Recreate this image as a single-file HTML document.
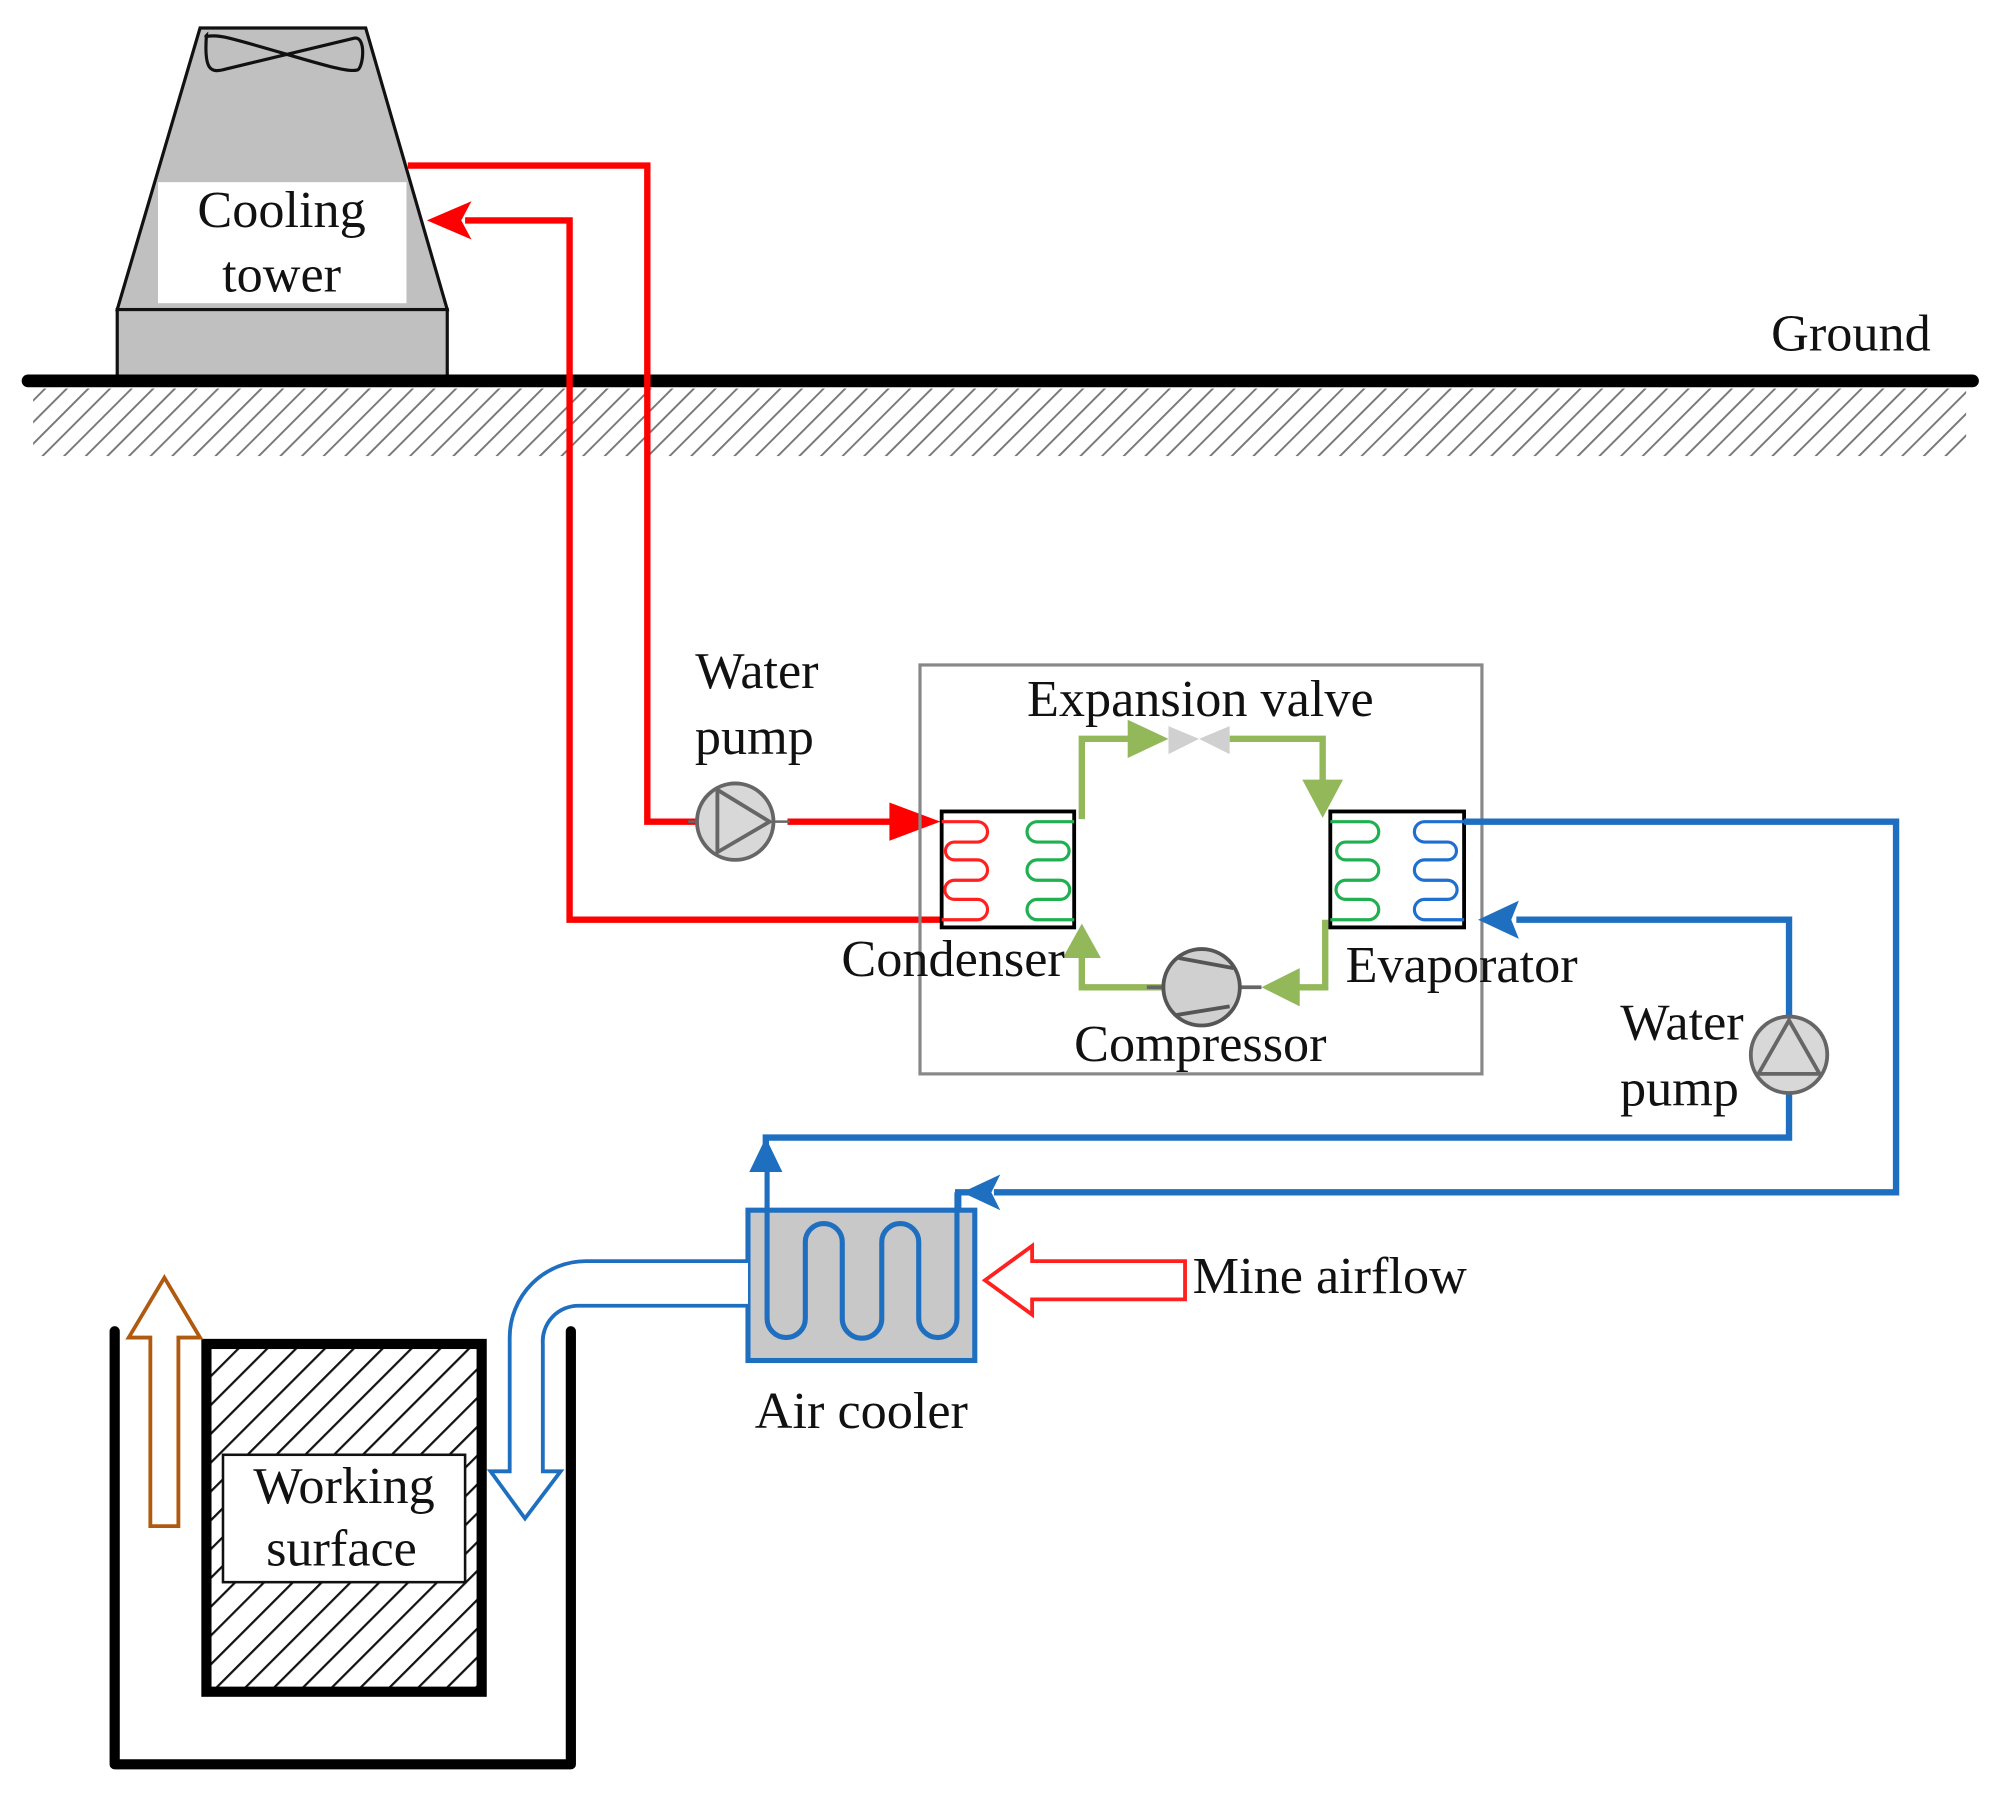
<!DOCTYPE html>
<html><head><meta charset="utf-8"><style>
html,body{margin:0;padding:0;background:#fff;}
svg{display:block;}
text{font-family:"Liberation Serif",serif;fill:#111;font-size:41px;}
</style></head><body>
<svg width="1998" height="1800" viewBox="0 0 1568 1413" preserveAspectRatio="none" xmlns="http://www.w3.org/2000/svg">
<defs>
<pattern id="h1" width="12" height="12" patternUnits="userSpaceOnUse" patternTransform="rotate(45)">
<line x1="0" y1="0" x2="0" y2="12" stroke="#777" stroke-width="3"/></pattern>
<pattern id="h2" width="16" height="16" patternUnits="userSpaceOnUse" patternTransform="rotate(45)">
<line x1="0" y1="0" x2="0" y2="16" stroke="#111" stroke-width="3.5"/></pattern>
</defs>
<rect width="1568" height="1413" fill="#fff"/>
<!-- ground -->
<rect x="26" y="305" width="1517" height="53" fill="url(#h1)"/>
<!-- cooling tower -->
<polygon points="157,22 287,22 351,243 92,243" fill="#c0c0c0" stroke="#111" stroke-width="2.5"/>
<path d="M162,28 C160,55 165,58 178,54 L278,30 C288,28 285,55 280,55 C270,58 220,40 180,30 C165,26 160,30 162,28 Z" fill="none" stroke="#111" stroke-width="2.5"/>
<rect x="124" y="143" width="195" height="95" fill="#fff"/>
<rect x="92" y="243" width="259" height="55" fill="#c0c0c0" stroke="#111" stroke-width="2.5"/>
<text x="221" y="178" text-anchor="middle">Cooling</text>
<text x="221" y="229" text-anchor="middle">tower</text>
<line x1="22" y1="299" x2="1548" y2="299" stroke="#000" stroke-width="10" stroke-linecap="round"/>
<text x="1390" y="275">Ground</text>
<!-- red lines -->
<g stroke="#ff0000" stroke-width="5" fill="none">
<polyline points="320,130 508,130 508,645 546,645"/>
<line x1="618" y1="645" x2="705" y2="645"/>
<polyline points="738,722 447,722 447,173 365,173"/>
</g>
<polygon points="698,630 738,645 698,660" fill="#ff0000"/>
<polygon points="335,173 370,158 362,173 370,188" fill="#ff0000"/>
<!-- pump left -->
<line x1="540" y1="645" x2="620" y2="645" stroke="#666" stroke-width="2"/>
<circle cx="577" cy="645" r="30" fill="#d8d8d8" stroke="#666" stroke-width="3"/>
<polygon points="563,620 604,645 563,669" fill="none" stroke="#666" stroke-width="3"/>
<text x="594" y="540" text-anchor="middle">Water</text>
<text x="592" y="592" text-anchor="middle">pump</text>
<!-- expansion box -->
<rect x="722" y="522" width="441" height="321" fill="none" stroke="#888" stroke-width="2.5"/>
<text x="942" y="562" text-anchor="middle">Expansion valve</text>
<!-- green loop -->
<g stroke="#92b85a" stroke-width="5" fill="none">
<polyline points="849,643 849,580 890,580"/>
<polyline points="965,580 1038,580 1038,615"/>
<polyline points="1040,722 1040,775 1010,775"/>
<polyline points="913,775 849,775 849,750"/>
</g>
<polygon points="885,565 917,580 885,595" fill="#92b85a"/>
<polygon points="1022,612 1038,642 1054,612" fill="#92b85a"/>
<polygon points="1020,760 990,775 1020,790" fill="#92b85a"/>
<polygon points="834,752 849,725 864,752" fill="#92b85a"/>
<polygon points="917,570 941,580 917,592" fill="#d0d0d0"/>
<polygon points="965,570 941,580 965,592" fill="#d0d0d0"/>
<!-- compressor -->
<line x1="900" y1="775" x2="990" y2="775" stroke="#666" stroke-width="3"/>
<circle cx="943" cy="775" r="30" fill="#d0d0d0" stroke="#555" stroke-width="3"/>
<line x1="925" y1="752" x2="968" y2="760" stroke="#555" stroke-width="3"/>
<line x1="922" y1="797" x2="965" y2="790" stroke="#555" stroke-width="3"/>
<text x="942" y="833" text-anchor="middle">Compressor</text>
<!-- condenser -->
<rect x="739" y="637" width="104" height="91" fill="#fff" stroke="#000" stroke-width="3"/>
<path d="M739,645 H767 A8,8 0 0 1 767,661 H749 A7,7 0 0 0 749,675 H767 A8,8 0 0 1 767,691 H749 A7.5,7.5 0 0 0 749,706 H767 A8,8 0 0 1 767,722 H739" fill="none" stroke="#ff2020" stroke-width="2.5"/>
<path d="M843,645 H814 A8,8 0 0 0 814,661 H832 A7,7 0 0 1 832,675 H814 A8,8 0 0 0 814,691 H832 A7.5,7.5 0 0 1 832,706 H814 A8,8 0 0 0 814,722 H843" fill="none" stroke="#20b050" stroke-width="2.5"/>
<text x="748" y="766" text-anchor="middle">Condenser</text>
<!-- evaporator -->
<rect x="1044" y="637" width="105" height="91" fill="#fff" stroke="#000" stroke-width="3"/>
<path d="M1044,645 H1074 A8,8 0 0 1 1074,661 H1056 A7,7 0 0 0 1056,675 H1074 A8,8 0 0 1 1074,691 H1056 A7.5,7.5 0 0 0 1056,706 H1074 A8,8 0 0 1 1074,722 H1044" fill="none" stroke="#20b050" stroke-width="2.5"/>
<path d="M1149,645 H1118 A8,8 0 0 0 1118,661 H1136 A7,7 0 0 1 1136,675 H1118 A8,8 0 0 0 1118,691 H1136 A7.5,7.5 0 0 1 1136,706 H1118 A8,8 0 0 0 1118,722 H1149" fill="none" stroke="#1f6fd0" stroke-width="2.5"/>
<text x="1056" y="771">Evaporator</text>
<!-- blue lines -->
<g stroke="#1f6fc0" stroke-width="5" fill="none">
<polyline points="1149,645 1488,645 1488,936 780,936"/>
<polyline points="1190,722 1404,722 1404,798"/>
<polyline points="1404,858 1404,893 601,893 601,915"/>
<polyline points="752,955 752,936 770,936"/>
</g>
<polygon points="588,920 601,893 614,920" fill="#1f6fc0"/>
<polygon points="755,936 785,922 778,936 785,950" fill="#1f6fc0"/>
<polygon points="1160,722 1192,707 1186,722 1192,737" fill="#1f6fc0"/>
<!-- pump right -->
<circle cx="1404" cy="828" r="30" fill="#d8d8d8" stroke="#666" stroke-width="3"/>
<polygon points="1404,801 1380,843 1428,843" fill="none" stroke="#666" stroke-width="3"/>
<text x="1320" y="816" text-anchor="middle">Water</text>
<text x="1318" y="868" text-anchor="middle">pump</text>
<!-- air cooler -->
<rect x="587" y="950" width="178" height="118" fill="#c8c8c8" stroke="#1f6fc0" stroke-width="4"/>
<path d="M602,915 V1035 A15,15 0 0 0 632,1035 V975 A14.5,14.5 0 0 1 661,975 V1035 A15.5,15.5 0 0 0 692,1035 V975 A14.5,14.5 0 0 1 721,975 V1035 A15,15 0 0 0 751,1035 V936" fill="none" stroke="#1f6fc0" stroke-width="4"/>
<text x="676" y="1121" text-anchor="middle">Air cooler</text>
<!-- mine airflow arrow -->
<polygon points="773,1005 810,978 810,990 930,990 930,1020 810,1020 810,1032" fill="#fff" stroke="#ff2020" stroke-width="3"/>
<text x="936" y="1015">Mine airflow</text>
<!-- blue hollow pipe -->
<path d="M587,990 H460 A60,60 0 0 0 400,1050 V1155 H385 L412,1192 L440,1155 H426 V1055 A28,28 0 0 1 454,1025 H587" fill="#fff" stroke="#1f6fc0" stroke-width="3"/>
<!-- mine shaft -->
<polyline points="90,1045 90,1385 448,1385 448,1045" fill="none" stroke="#000" stroke-width="8" stroke-linecap="round" stroke-linejoin="round"/>
<rect x="162" y="1055" width="216" height="273" fill="url(#h2)" stroke="#000" stroke-width="8"/>
<rect x="175" y="1142" width="190" height="100" fill="#fff" stroke="#111" stroke-width="2"/>
<text x="270" y="1180" text-anchor="middle">Working</text>
<text x="268" y="1229" text-anchor="middle">surface</text>
<!-- brown arrow -->
<path d="M118,1198 V1050 H101 L129,1003 L157,1050 H140 V1198 Z" fill="#fff" stroke="#b05a10" stroke-width="3"/>
</svg>
</body></html>
